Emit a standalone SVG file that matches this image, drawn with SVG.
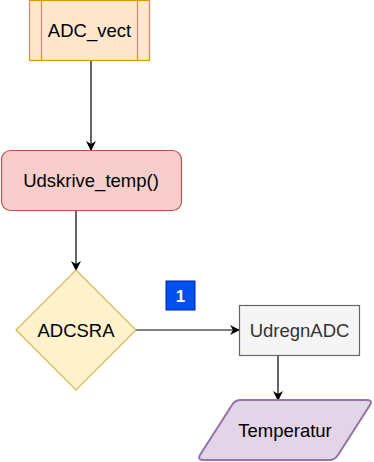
<svg xmlns="http://www.w3.org/2000/svg" width="374" height="462" viewBox="0 0 374 462">
  <defs>
    <marker id="arrow" viewBox="0 0 10 10" refX="9" refY="5" markerWidth="10" markerHeight="10" markerUnits="userSpaceOnUse" orient="auto">
      <path d="M0,0 L10,5 L0,10 L3,5 Z" fill="#000"/>
    </marker>
  </defs>
  <style>
    text { font-family: "Liberation Sans", Arial, sans-serif; font-size: 18.5px; text-anchor: middle; fill: #000; }
    .edge { fill: none; stroke: #000; stroke-width: 1.2; marker-end: url(#arrow); }
  </style>
  <rect width="374" height="462" fill="#fff"/>

  <g id="edges">
    <path class="edge" d="M91,60 L91,150"/>
    <path class="edge" d="M76,210 L76,270"/>
    <path class="edge" d="M136,330 L239,330"/>
    <path class="edge" d="M278,355 L278,400"/>
  </g>

  <g id="adc-vect">
    <rect x="29.5" y="0.5" width="120" height="60" fill="#ffe6cc" stroke="#d79b00" stroke-width="1.2"/>
    <line x1="41.5" y1="0.5" x2="41.5" y2="60.5" stroke="#d79b00" stroke-width="1.2"/>
    <line x1="137.5" y1="0.5" x2="137.5" y2="60.5" stroke="#d79b00" stroke-width="1.2"/>
    <text x="89.5" y="36.5">ADC_vect</text>
  </g>

  <g id="udskrive-temp">
    <rect x="1.5" y="150.5" width="180" height="60" rx="9" ry="9" fill="#f8cecc" stroke="#b85450" stroke-width="1.2"/>
    <text x="91" y="186.5">Udskrive_temp()</text>
  </g>

  <g id="adcsra">
    <path d="M76,270 L136,330 L76,390 L16,330 Z" fill="#fff2cc" stroke="#d6b656" stroke-width="1.2"/>
    <text x="76" y="336.5">ADCSRA</text>
  </g>

  <g id="badge-1">
    <rect x="166" y="281" width="29" height="29" fill="#0050ef" stroke="#001dbc" stroke-width="1"/>
    <text x="180.5" y="302" style="fill:#fff;font-size:17px;font-weight:bold">1</text>
  </g>

  <g id="udregnadc">
    <rect x="239.5" y="305.5" width="120" height="50" fill="#f5f5f5" stroke="#666666" stroke-width="1.2"/>
    <text x="299.5" y="336.5" style="fill:#333333">UdregnADC</text>
  </g>

  <g id="temperatur">
    <path d="M241,400 L367,400 Q373,400 370,405 L338,455 Q335,460 329,460 L203,460 Q197,460 200,455 L232,405 Q235,400 241,400 Z" fill="#e1d5e7" stroke="#9673a6" stroke-width="2"/>
    <text x="285" y="436.5">Temperatur</text>
  </g>
</svg>
